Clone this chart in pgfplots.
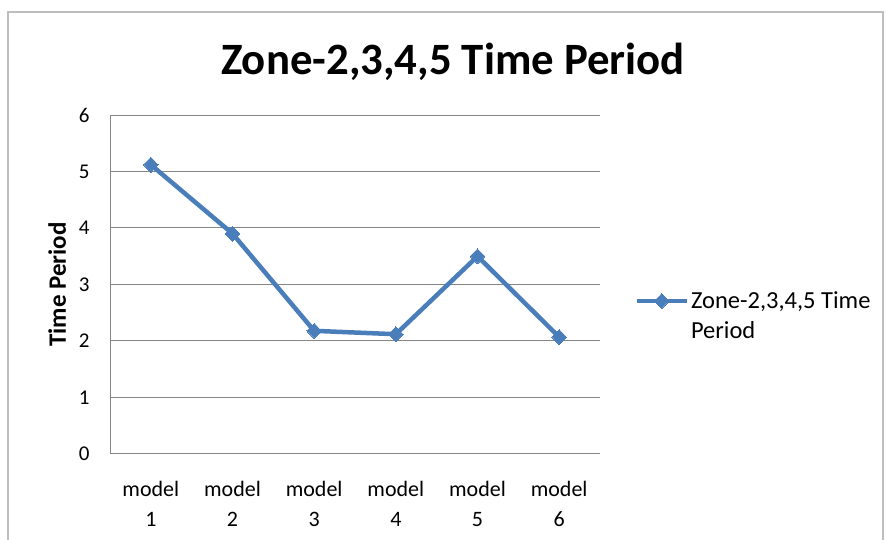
\documentclass[border=0pt]{standalone}
\usepackage{fontspec}
\setmainfont{Carlito}
\usepackage{pgfplots}
\pgfplotsset{compat=1.18}
\definecolor{excelblue}{RGB}{74,126,187}
\definecolor{gridgray}{RGB}{134,134,134}
\definecolor{framegray}{RGB}{190,190,190}
\begin{document}
\begin{tikzpicture}[x=1pt,y=1pt]
\useasboundingbox (0,0) rectangle (886,540);
\draw[framegray, line width=1.2pt] (8,-10) -- (8,528) -- (883,528) -- (883,-10);
\begin{axis}[
  at={(110pt,86pt)}, anchor=south west,
  scale only axis, width=490pt, height=339pt,
  xmin=0.5, xmax=6.5, ymin=0, ymax=6,
  xtick={1,2,3,4,5,6},
  xticklabels={{model\\1},{model\\2},{model\\3},{model\\4},{model\\5},{model\\6}},
  ytick={0,1,2,3,4,5,6},
  ymajorgrids,
  major grid style={gridgray, line width=1pt},
  axis x line*=bottom, axis y line*=left,
  axis line style={gridgray, line width=1pt, -},
  major tick length=0pt,
  /pgf/number format/assume math mode=true,
  tick label style={text=black},
  xticklabel style={align=center, yshift=-24pt, font=\fontsize{22}{30}\selectfont},
  yticklabel style={xshift=-17pt, font=\fontsize{21}{25}\selectfont},
  ylabel={\bfseries Time Period},
  every axis y label/.style={at={(axis description cs:-0.108,0.5)}, rotate=90, anchor=center, font=\fontsize{25}{28}\selectfont},
  title={\bfseries Zone-2,3,4,5 Time Period},
  every axis title/.style={at={(axis description cs:0.7,1.12)}, anchor=base, font=\fontsize{44.8}{50}\selectfont},
  legend style={at={(axis description cs:1.07,0.485)}, anchor=north west, draw=none, fill=none,
    font=\fontsize{24.5}{28}\selectfont, inner sep=0pt, row sep=7pt},
  legend cell align=left,
  legend image code/.code={\draw[mark repeat=2,mark phase=2,#1] plot coordinates {(0pt,0pt)(25pt,0pt)(50pt,0pt)};},
]
\addplot[excelblue, line width=4.5pt, mark=diamond*, mark size=7.5pt, mark options={solid, line width=0pt, xscale=1.3}]
  coordinates {(1,5.12) (2,3.90) (3,2.18) (4,2.12) (5,3.50) (6,2.07)};
\addlegendentry{Zone-2,3,4,5 Time}
\addlegendimage{empty legend}
\addlegendentry{Period}
\end{axis}
\end{tikzpicture}
\end{document}
